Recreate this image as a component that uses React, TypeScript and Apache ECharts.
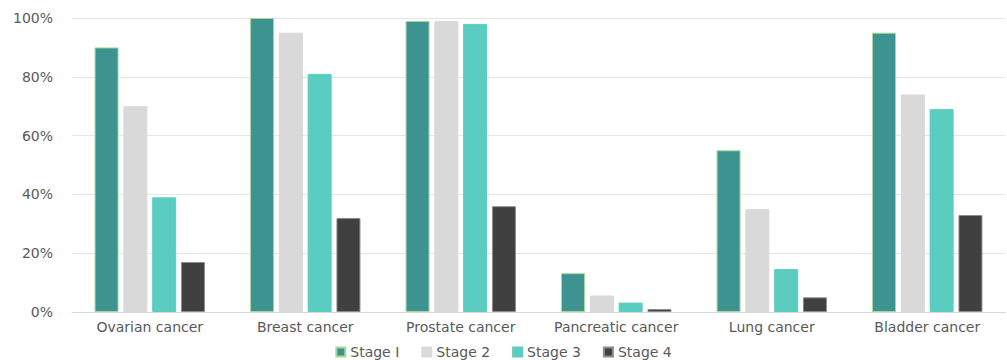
import React, { useEffect, useRef } from "react";
import * as echarts from "echarts";

const categories = ["Ovarian cancer", "Breast cancer", "Prostate cancer", "Pancreatic cancer", "Lung cancer", "Bladder cancer"];
const stage1 = [90, 100, 99, 13.2, 55, 95];
const stage2 = [70, 95, 99, 5.6, 35, 74];
const stage3 = [39, 81, 98, 3.2, 14.6, 69];
const stage4 = [17, 32, 36, 1, 5, 33];
const seriesNames = ["Stage I", "Stage 2", "Stage 3", "Stage 4"];

export default function App() {
  const ref = useRef<HTMLDivElement>(null);
  useEffect(() => {
    document.body.style.margin = "0";
    const chart = echarts.init(ref.current!, undefined, { renderer: "svg" });
    const font = "DejaVu Sans";
    const mk = (name: string, data: number[], color: string, border: string) => ({
      name,
      type: "bar",
      data,
      barGap: "20%",
      barCategoryGap: "29%",
      itemStyle: { color, borderColor: border, borderWidth: 1 },
    });
    chart.setOption({
      animation: false,
      textStyle: { fontFamily: font },
      grid: { left: 72, right: 2, top: 18, bottom: 48 },
      legend: {
        bottom: -4,
        left: "center",
        itemWidth: 9,
        itemHeight: 9,
        itemGap: 22,
        icon: "rect",
        textStyle: { color: "#595959", fontSize: 14, fontFamily: font },
        data: seriesNames,
      },
      xAxis: {
        type: "category",
        data: categories,
        axisLine: { lineStyle: { color: "#d9d9d9" } },
        axisTick: { show: false },
        axisLabel: { color: "#595959", fontSize: 14, margin: 8, fontFamily: font, interval: 0, hideOverlap: false },
      },
      yAxis: {
        type: "value",
        min: 0,
        max: 100,
        interval: 20,
        axisLabel: { formatter: "{value}%", color: "#595959", fontSize: 14, margin: 19, fontFamily: font },
        splitLine: { lineStyle: { color: "#e6e6e6" } },
        axisLine: { show: false },
        axisTick: { show: false },
      },
      series: [
        mk(seriesNames[0], stage1, "#3d938f", "#a6d89c"),
        mk(seriesNames[1], stage2, "#d9d9d9", "#d9d9d9"),
        mk(seriesNames[2], stage3, "#5bcdc0", "#5bcdc0"),
        mk(seriesNames[3], stage4, "#404040", "#8c8c8c"),
      ],
    });
    return () => chart.dispose();
  }, []);
  return <div ref={ref} style={{ width: 1007, height: 360 }} />;
}
